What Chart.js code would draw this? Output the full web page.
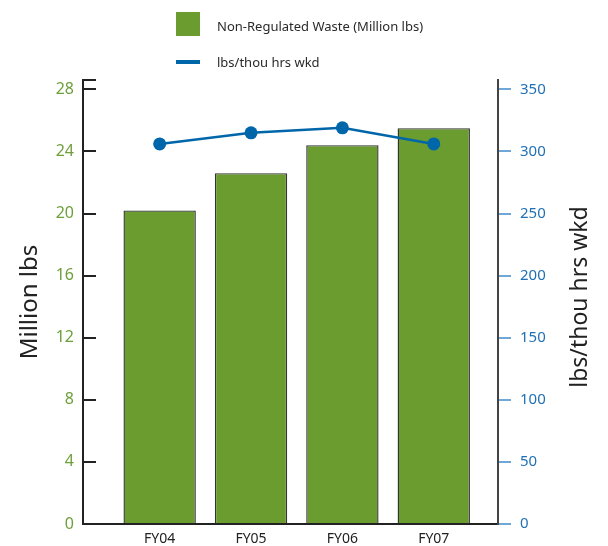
<!doctype html>
<html>
<head>
<meta charset="utf-8">
<title>Non-Regulated Waste</title>
<script src="https://cdn.jsdelivr.net/npm/chart.js"></script>
<style>
html,body{margin:0;padding:0;background:#fff;overflow:hidden}
#wrap{position:relative;width:608px;height:546px;font-family:"Noto Sans",sans-serif}
#legend{position:absolute;left:176px;top:12px;font-size:13px;color:#2a2a2a}
#legend .item{position:absolute;left:0;display:flex;align-items:center;white-space:nowrap;height:24px}
#legend .sw{width:24px;margin-right:17px}
canvas{display:block}
</style>
</head>
<body>
<div id="wrap">
  <canvas id="chart" width="608" height="546"></canvas>
  <div id="legend"></div>
</div>
<script>
const years = ['FY04', 'FY05', 'FY06', 'FY07'];
const wasteMillionLbs = [20.2, 22.6, 24.4, 25.5];
const lbsPerThouHrs = [306, 315, 319, 306];
const leftTicks = [0, 4, 8, 12, 16, 20, 24, 28];
const rightTicks = [0, 50, 100, 150, 200, 250, 300, 350];

const GREEN = '#6a9c30';
const BLUE = '#0066aa';

// right axis title reads bottom-to-top in the original, so draw it ourselves
const rightTitle = {
  id: 'rightTitle',
  afterDraw(chart) {
    const s = chart.scales.y2;
    const ctx = chart.ctx;
    ctx.save();
    ctx.translate(s.right - 28, (s.top + s.bottom) / 2 - 5);
    ctx.rotate(-Math.PI / 2);
    ctx.font = '23px "Noto Sans"';
    ctx.fillStyle = '#222';
    ctx.textAlign = 'center';
    ctx.textBaseline = 'middle';
    ctx.fillText('lbs/thou hrs wkd', 0, 0);
    ctx.restore();
  }
};

const chart = new Chart(document.getElementById('chart'), {
  type: 'bar',
  data: {
    datasets: [{
      type: 'line',
      label: 'lbs/thou hrs wkd',
      data: years.map((y, i) => ({ x: i, y: lbsPerThouHrs[i] })),
      yAxisID: 'y2',
      borderColor: BLUE,
      backgroundColor: BLUE,
      borderWidth: 2.5,
      pointRadius: 6.5,
      pointBorderWidth: 0,
      pointBackgroundColor: BLUE,
      tension: 0,
      order: 0
    }, {
      type: 'bar',
      label: 'Non-Regulated Waste (Million lbs)',
      data: years.map((y, i) => ({ x: i, y: wasteMillionLbs[i] })),
      yAxisID: 'y',
      backgroundColor: GREEN,
      borderColor: '#333',
      borderWidth: 1.4,
      categoryPercentage: 1,
      barPercentage: 0.792,
      order: 1
    }]
  },
  options: {
    responsive: false,
    animation: false,
    layout: { padding: { top: 80, left: 0, right: 0, bottom: 0 } },
    plugins: { legend: { display: false }, tooltip: { enabled: false } },
    scales: {
      x: {
        type: 'linear',
        offset: false,
        min: -0.839,
        max: 3.703,
        afterBuildTicks: s => { s.ticks = years.map((y, i) => ({ value: i })); },
        ticks: { callback: v => years[v], color: '#222', font: { family: 'Noto Sans', size: 14 }, padding: 7, maxRotation: 0, autoSkip: false },
        grid: { display: false, drawTicks: false, offset: false },
        border: { color: '#222', width: 2 },
        afterFit: s => { s.height = 22; }
      },
      y: {
        position: 'left',
        min: 0,
        max: 28.6,
        afterBuildTicks: s => { s.ticks = leftTicks.concat([28.6]).map(v => ({ value: v })); },
        ticks: { color: '#6e9f3a', font: { family: 'Noto Sans', size: 16 }, padding: 22, callback: v => leftTicks.includes(v) ? v : '' },
        grid: { drawOnChartArea: false, tickLength: -13, color: '#222', lineWidth: 2 },
        border: { color: '#222', width: 2 },
        title: { display: true, text: 'Million lbs', color: '#222', font: { family: 'Noto Sans', size: 24 }, padding: { top: 16, bottom: 0 } },
        // inward ticks inflate the label padding, keep it from eating the plot height
        afterFit: s => { s.width = 83; s.paddingTop = 10; s.paddingBottom = 10; }
      },
      y2: {
        position: 'right',
        min: 0,
        max: 357.5,
        afterBuildTicks: s => { s.ticks = rightTicks.map(v => ({ value: v })); },
        ticks: { color: '#2171b5', font: { family: 'Noto Sans', size: 15 }, padding: 9 },
        grid: { drawOnChartArea: false, tickLength: 13, color: '#6fa8d6', lineWidth: 2 },
        border: { color: '#444', width: 2 },
        afterFit: s => { s.width = 110; }
      }
    }
  },
  plugins: [rightTitle]
});

// legend stacked in two rows, as in the original
const legend = document.getElementById('legend');
const bar = chart.data.datasets[1], line = chart.data.datasets[0];
legend.innerHTML =
  '<div class="item" style="top:0"><span class="sw" style="height:24px;background:' + bar.backgroundColor + '"></span><span style="padding-top:4px">' + bar.label + '</span></div>' +
  '<div class="item" style="top:38px"><span class="sw" style="height:4px;background:' + line.borderColor + '"></span><span>' + line.label + '</span></div>';
</script>
</body>
</html>
